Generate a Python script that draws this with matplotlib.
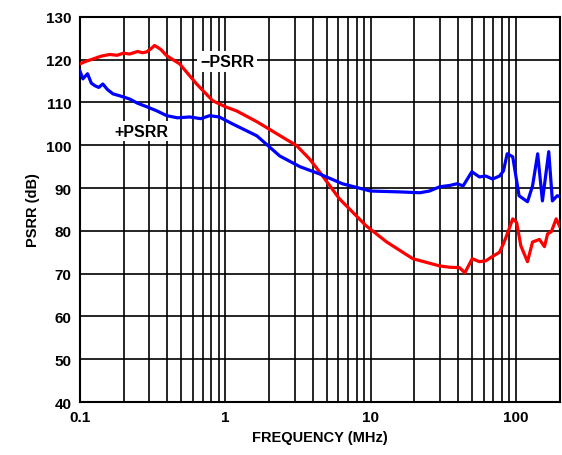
import matplotlib
matplotlib.use('Agg')
import matplotlib.pyplot as plt
from matplotlib.ticker import FixedLocator, LogLocator, NullFormatter
import numpy as np

# -PSRR (red) readings
neg_freq = [0.1, 0.11, 0.12, 0.14, 0.161, 0.18, 0.2, 0.22, 0.25, 0.27, 0.288, 0.31, 0.327, 0.36,
            0.396, 0.486, 0.636, 0.82, 1.0, 1.2, 1.65, 2.26, 3.1, 3.8, 4.45, 6.1, 9.3, 12.9,
            19.5, 29.9, 35, 40.9, 44.5, 50, 56, 62, 68, 77, 82, 86, 95, 101, 108, 120, 130,
            145, 157, 165, 175, 189, 200]
neg_psrr = [119, 119.6, 120, 120.8, 121.2, 121.0, 121.5, 121.3, 121.9, 121.6, 121.8, 122.6, 123.3,
            122.4, 120.9, 119, 114.3, 110.4, 109, 108, 105.5, 102.7, 99.9, 96.8, 93.8, 87.5, 81.2,
            77.4, 73.5, 71.8, 71.5, 71.4, 70.2, 73.5, 72.8, 73, 73.9, 75, 77, 78.8, 82.8, 82,
            76.5, 72.8, 77.4, 78, 76.3, 79.3, 79.8, 82.8, 81]

# +PSRR (blue) readings
pos_freq = [0.1, 0.105, 0.113, 0.12, 0.127, 0.135, 0.144, 0.155, 0.169, 0.19, 0.22, 0.25, 0.288,
            0.34, 0.396, 0.47, 0.57, 0.68, 0.78, 0.91, 1.12, 1.65, 2.37, 3.26, 4.45, 6.4, 10,
            15.8, 21.8, 25.4, 29.9, 35, 39.3, 43.3, 49.7, 56, 62, 69, 77, 82, 87, 95, 105, 120,
            130, 141, 152, 168, 178, 192, 200]
pos_psrr = [117.4, 115.5, 116.7, 114.5, 113.9, 113.5, 114.3, 113, 112, 111.5, 110.8, 109.8, 109,
            108, 106.9, 106.4, 106.6, 106.2, 106.9, 106.6, 105, 102.2, 97.5, 95, 93.3, 91, 89.3,
            89.1, 88.9, 89.3, 90.3, 90.6, 91, 90.5, 93.8, 92.6, 92.8, 92.1, 92.8, 94, 98, 97.3,
            88.2, 86.8, 90.5, 98, 87, 98.5, 87, 88.2, 88]

plt.rcParams['font.family'] = ['Liberation Sans', 'DejaVu Sans']
plt.rcParams['font.weight'] = 'bold'

fig = plt.figure(figsize=(5.62, 4.56), dpi=100)
ax = fig.add_axes([0.142, 0.116, 0.854, 0.845])

ax.semilogx(neg_freq, neg_psrr, color='#ff0000', lw=2.3, zorder=3)
ax.semilogx(pos_freq, pos_psrr, color='#0000ff', lw=2.3, zorder=3)

ax.set_xlim(0.1, 200)
ax.set_ylim(40, 130)
ax.xaxis.set_major_locator(FixedLocator([0.1, 1, 10, 100]))
ax.set_xticklabels(['0.1', '1', '10', '100'])
ax.xaxis.set_minor_locator(LogLocator(base=10, subs=np.arange(2, 10), numticks=20))
ax.xaxis.set_minor_formatter(NullFormatter())
ax.set_yticks(np.arange(40, 131, 10))

ax.grid(True, which='both', axis='x', color='black', lw=1.2)
ax.grid(True, which='major', axis='y', color='black', lw=1.2)
ax.tick_params(which='both', length=0, labelsize=11, pad=6)
for lab in ax.get_xticklabels() + ax.get_yticklabels():
    lab.set_fontweight('bold')
for s in ax.spines.values():
    s.set_linewidth(1.5)

ax.set_xlabel('FREQUENCY (MHz)', fontsize=10.5, fontweight='bold')
ax.set_ylabel('PSRR (dB)', fontsize=10.5, fontweight='bold')

ax.text(1.03, 119.6, '\u2212PSRR', fontsize=11.5, fontweight='bold', ha='center', va='center',
        bbox=dict(facecolor='white', edgecolor='none', pad=2), zorder=4)
ax.text(0.265, 103.3, '+PSRR', fontsize=11.5, fontweight='bold', ha='center', va='center',
        bbox=dict(facecolor='white', edgecolor='none', pad=2), zorder=4)

fig.savefig('out.png', dpi=100)
